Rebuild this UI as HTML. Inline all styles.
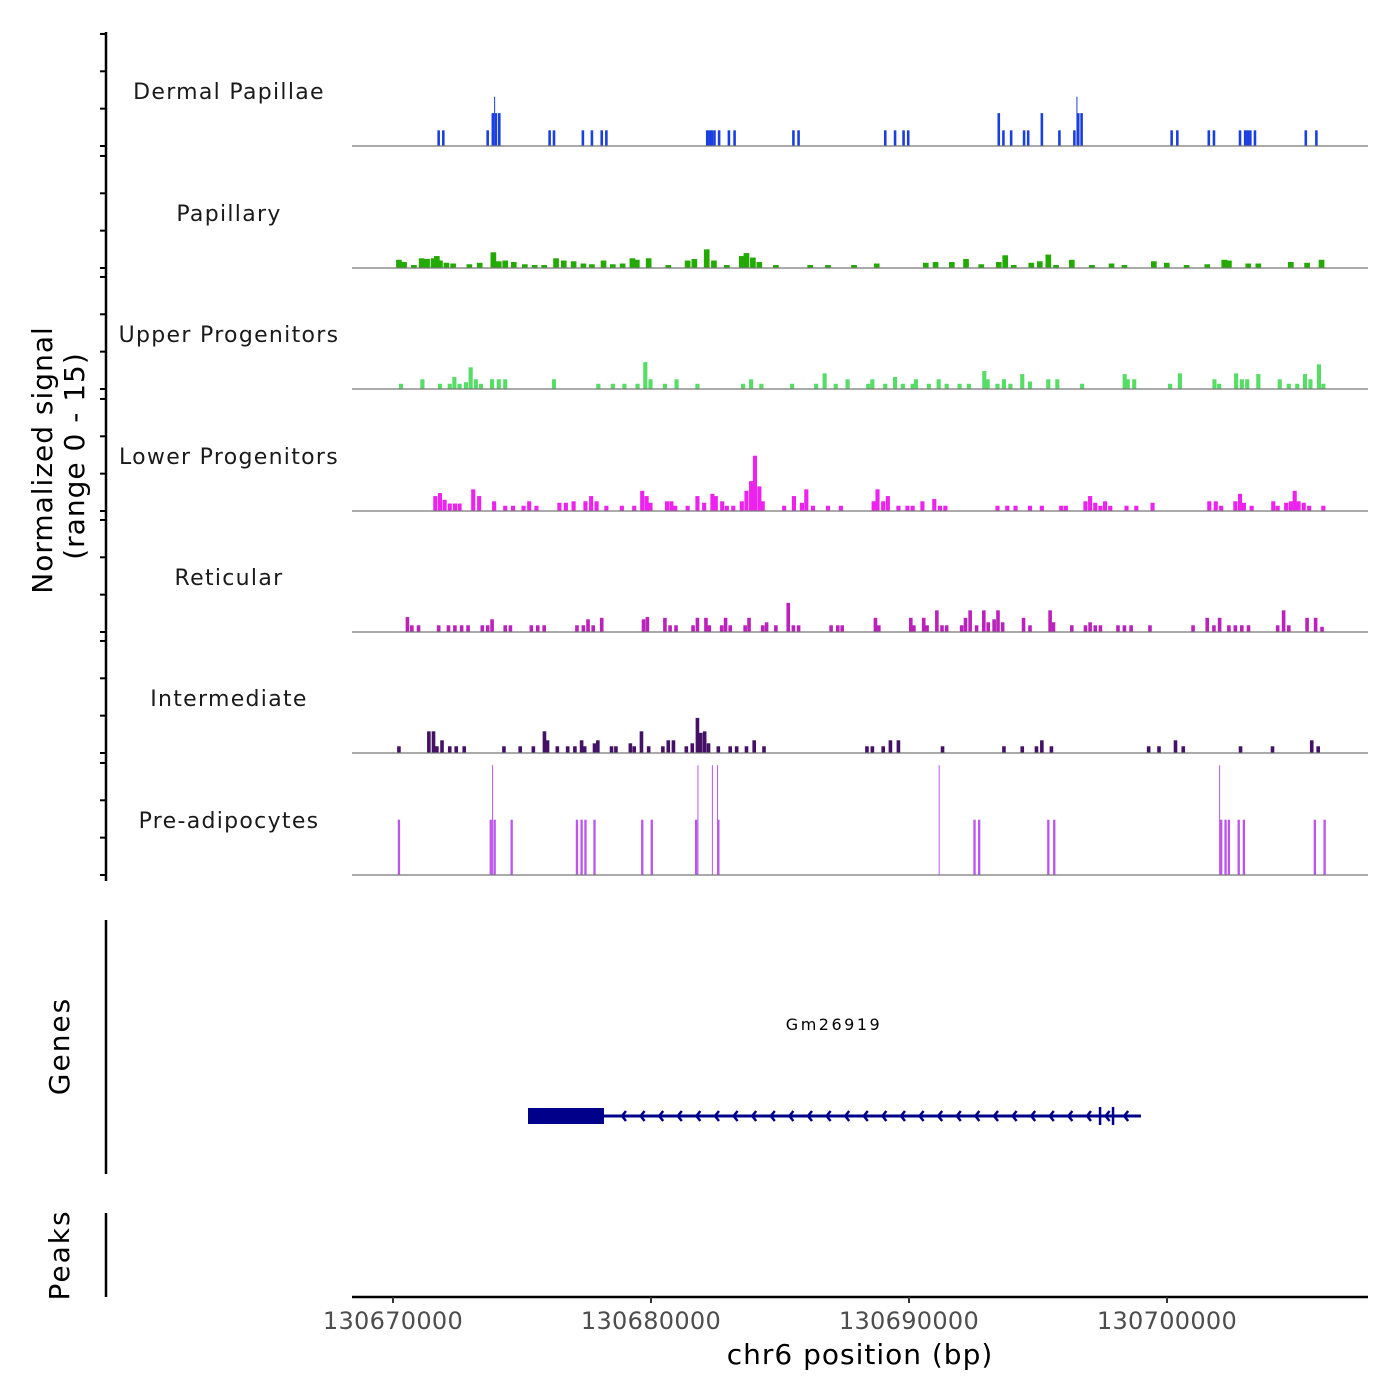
<!DOCTYPE html>
<html><head><meta charset="utf-8"><style>
body{margin:0;background:#fff}
svg{display:block;font-family:"DejaVu Sans","Liberation Sans",sans-serif}
</style></head><body>
<svg id="chart" width="1400" height="1400" viewBox="0 0 1400 1400" xmlns="http://www.w3.org/2000/svg">
<g id="axes"></g><g id="tracks"></g><g id="gene"></g>
<text transform="translate(52,460) rotate(-90)" text-anchor="middle" font-size="28" letter-spacing="1" fill="#000">Normalized signal</text>
<text transform="translate(84,456) rotate(-90)" text-anchor="middle" font-size="28" letter-spacing="1" fill="#000">(range 0 - 15)</text>
<text transform="translate(69,1046) rotate(-90)" text-anchor="middle" font-size="28" letter-spacing="2" fill="#000">Genes</text>
<text transform="translate(69,1255) rotate(-90)" text-anchor="middle" font-size="28" letter-spacing="2" fill="#000">Peaks</text>
<text x="860" y="1364" text-anchor="middle" font-size="28" letter-spacing="1" fill="#000">chr6 position (bp)</text>
</svg>
<script>
const tickValues=[130670000,130680000,130690000,130700000];
const trackNames=["Dermal Papillae","Papillary","Upper Progenitors","Lower Progenitors","Reticular","Intermediate","Pre-adipocytes"];
const trackColors=["#1a3fe0","#22aa00","#55dd66","#ee22ee","#bb22bb","#441166","#bb55ee"];
const binBp=[100,220,160,160,140,140,90];
const regionStartKb=130668;
const dermal=[[3.77,2.1],[3.95,2.1],[5.67,2.1],[5.87,4.4],[5.92,6.6],[5.99,4.4],[6.12,4.4],[8.07,2.1],[8.24,2.1],[9.36,2.1],[9.71,2.1],[10.09,2.1],[10.27,2.1],[14.18,2.1],[14.28,2.1],[14.36,2.1],[14.46,2.1],[14.64,2.1],[15.02,2.1],[15.24,2.1],[17.52,2.1],[17.72,2.1],[21.08,2.1],[21.46,2.1],[21.79,2.1],[21.97,2.1],[25.48,4.4],[25.66,2.1],[25.96,2.1],[26.46,2.1],[26.62,2.1],[27.15,4.4],[27.83,2.1],[28.41,2.1],[28.49,6.6],[28.56,4.4],[28.69,4.4],[32.18,2.1],[32.40,2.1],[33.62,2.1],[33.82,2.1],[34.83,2.1],[35.03,2.1],[35.13,2.1],[35.23,2.1],[35.41,2.1],[37.38,2.1],[37.79,2.1]];
const papillary=[[2.23,1.1],[2.43,0.8],[2.81,0.4],[3.11,1.3],[3.32,1.2],[3.57,1.3],[3.70,1.6],[3.82,1.0],[4.07,0.7],[4.33,0.6],[4.96,0.5],[5.36,0.7],[5.89,2.1],[6.10,0.9],[6.35,1.0],[6.68,0.8],[7.11,0.5],[7.49,0.4],[7.86,0.4],[8.32,1.3],[8.62,1.0],[9.00,0.9],[9.38,0.6],[9.71,0.5],[10.16,1.0],[10.52,0.5],[10.90,0.6],[11.28,1.3],[11.45,1.1],[11.91,1.3],[12.67,0.4],[13.42,1.0],[13.68,1.2],[14.16,2.5],[14.44,1.0],[14.94,0.4],[15.52,1.6],[15.70,2.0],[15.95,1.4],[16.20,0.8],[16.84,0.4],[18.17,0.4],[18.86,0.4],[19.87,0.4],[20.75,0.6],[22.65,0.7],[23.03,0.8],[23.66,0.8],[24.21,1.2],[24.80,0.5],[25.48,0.8],[25.73,1.7],[26.06,0.4],[26.74,0.7],[27.07,0.9],[27.40,1.8],[27.70,0.4],[28.31,1.1],[29.09,0.4],[29.85,0.6],[30.35,0.4],[31.49,0.9],[31.99,0.7],[32.76,0.4],[33.56,0.5],[34.22,1.1],[34.40,1.0],[35.15,0.6],[35.54,0.6],[36.80,0.8],[37.43,0.7],[37.99,1.1]];
const upper=[[2.31,0.7],[3.14,1.3],[3.82,0.7],[4.20,0.7],[4.38,1.6],[4.58,0.7],[4.83,0.9],[5.01,2.9],[5.21,1.3],[5.41,0.7],[5.84,1.3],[6.10,1.3],[6.35,1.3],[8.24,1.3],[9.96,0.7],[10.52,0.7],[10.97,0.7],[11.48,0.7],[11.78,3.6],[11.98,1.3],[12.54,0.7],[12.99,1.3],[13.80,0.7],[15.57,0.7],[15.88,1.3],[16.28,0.7],[17.47,0.7],[18.40,0.7],[18.73,2.1],[19.16,0.7],[19.62,1.3],[20.42,0.7],[20.58,1.3],[21.08,0.7],[21.46,1.6],[21.76,0.7],[22.14,0.7],[22.27,1.3],[22.77,0.7],[23.15,1.3],[23.46,0.7],[23.96,0.7],[24.32,0.7],[24.92,2.4],[25.05,1.3],[25.43,0.7],[25.68,1.3],[25.93,0.7],[26.39,2.0],[26.69,1.0],[27.40,1.3],[27.75,1.3],[28.71,0.7],[30.36,2.0],[30.48,1.3],[30.73,1.3],[32.12,0.7],[32.50,2.1],[33.84,1.3],[34.02,0.7],[34.68,2.1],[34.90,1.3],[35.11,1.3],[35.54,2.0],[36.37,1.3],[36.72,0.7],[37.05,0.7],[37.35,2.0],[37.56,1.3],[37.89,3.3],[38.06,0.7]];
const lower=[[3.64,2.0],[3.82,2.4],[4.00,1.5],[4.20,1.0],[4.40,1.0],[4.58,1.0],[5.11,2.9],[5.34,2.0],[5.92,1.3],[6.35,0.7],[6.65,0.7],[7.06,0.7],[7.28,1.3],[7.56,0.7],[8.45,1.1],[8.70,1.1],[9.00,1.3],[9.46,1.3],[9.68,2.0],[9.89,1.3],[10.27,0.7],[10.87,0.7],[11.35,0.7],[11.66,2.7],[11.83,2.0],[11.98,1.1],[12.62,1.3],[12.79,1.3],[12.94,0.7],[13.42,0.7],[13.80,2.0],[14.06,1.1],[14.38,2.3],[14.51,2.0],[14.76,1.3],[14.94,0.7],[15.19,0.7],[15.52,1.3],[15.70,2.7],[15.88,4.0],[16.03,7.4],[16.20,3.3],[16.33,1.3],[17.16,0.7],[17.54,2.0],[17.85,1.1],[18.02,2.9],[18.28,0.7],[18.86,0.7],[19.36,0.7],[20.63,1.3],[20.78,2.9],[21.00,1.3],[21.18,2.0],[21.59,0.7],[21.94,0.7],[22.14,0.7],[22.52,1.3],[22.98,1.6],[23.20,0.7],[23.41,0.7],[25.43,0.7],[25.81,0.7],[26.13,0.7],[26.69,0.7],[27.15,0.7],[27.90,0.7],[28.08,0.7],[28.84,1.3],[29.02,2.0],[29.22,1.1],[29.42,0.7],[29.60,1.3],[29.80,0.7],[30.43,0.7],[30.81,0.7],[31.44,1.1],[33.64,1.3],[33.89,1.3],[34.10,0.7],[34.65,1.3],[34.83,2.3],[34.98,1.1],[35.28,0.7],[36.12,1.3],[36.29,0.7],[36.62,1.1],[36.80,1.3],[36.95,2.7],[37.10,1.3],[37.30,1.1],[37.51,0.7],[38.06,0.7]];
const reticular=[[2.56,2.0],[2.73,0.9],[2.99,0.9],[3.77,0.9],[4.15,0.9],[4.40,0.9],[4.66,0.9],[4.91,0.9],[5.46,0.9],[5.67,0.9],[5.84,1.7],[6.35,0.9],[6.55,0.9],[7.36,0.9],[7.61,0.9],[7.86,0.9],[9.13,0.9],[9.38,0.9],[9.56,1.7],[9.76,0.9],[10.09,1.9],[11.71,1.7],[11.86,2.0],[12.54,1.9],[12.74,0.9],[12.97,0.9],[13.63,0.9],[13.80,1.9],[14.13,1.9],[14.26,0.9],[14.74,0.9],[14.89,1.9],[15.07,0.9],[15.65,0.9],[15.80,1.9],[16.33,0.9],[16.48,1.3],[16.84,0.9],[17.32,3.9],[17.52,0.9],[17.72,0.9],[18.98,0.9],[19.24,0.9],[19.41,0.9],[20.70,1.9],[20.83,0.9],[22.07,1.9],[22.19,0.9],[22.57,1.9],[22.70,0.9],[23.08,2.9],[23.28,0.9],[23.46,0.9],[24.04,0.9],[24.19,1.9],[24.37,2.9],[24.62,0.9],[24.90,2.9],[25.07,1.3],[25.30,1.7],[25.45,2.9],[25.63,1.3],[26.44,1.9],[26.69,0.9],[27.47,2.9],[27.60,1.3],[28.31,0.9],[28.84,0.9],[29.02,1.3],[29.22,0.9],[29.42,0.9],[30.10,0.9],[30.35,0.9],[30.61,0.9],[31.34,0.9],[33.01,0.9],[33.56,1.9],[33.82,0.9],[34.04,1.9],[34.40,0.9],[34.65,0.9],[34.90,0.9],[35.16,0.9],[36.29,0.9],[36.52,2.9],[36.72,0.9],[37.43,1.9],[37.76,1.9],[38.01,0.7]];
const intermediate=[[2.23,0.9],[3.39,2.9],[3.57,2.9],[3.70,0.9],[3.90,1.7],[4.20,0.9],[4.45,0.9],[4.76,0.9],[6.30,0.9],[6.93,0.9],[7.44,0.9],[7.87,2.9],[7.99,1.7],[8.37,0.9],[8.77,0.9],[9.05,0.9],[9.31,1.7],[9.43,0.9],[9.81,1.3],[9.94,1.7],[10.47,0.9],[10.64,0.9],[11.20,1.3],[11.35,0.9],[11.63,2.9],[11.91,0.9],[12.46,0.9],[12.67,1.7],[12.87,1.7],[13.37,0.9],[13.60,1.3],[13.80,4.7],[13.93,2.7],[14.08,2.9],[14.23,1.3],[14.61,0.9],[15.07,0.9],[15.32,0.9],[15.70,0.9],[16.00,1.7],[16.38,0.9],[20.37,0.9],[20.58,0.9],[21.00,0.9],[21.28,1.7],[21.59,1.7],[23.30,0.9],[25.68,0.9],[26.39,0.9],[26.94,0.9],[27.15,1.7],[27.52,0.9],[31.29,0.9],[31.69,0.9],[32.33,1.7],[32.63,0.9],[34.85,0.9],[36.09,0.9],[37.61,1.7],[37.86,0.9]];
const preadipocytes=[[2.23,7.4],[5.79,7.4],[5.84,14.7],[5.94,7.4],[6.60,7.4],[9.13,7.4],[9.31,7.4],[9.46,7.4],[9.81,7.4],[11.66,7.4],[12.03,7.4],[13.75,7.4],[13.80,14.7],[14.36,14.7],[14.56,14.7],[14.61,7.4],[23.15,14.7],[24.54,7.4],[24.72,7.4],[27.40,7.4],[27.63,7.4],[34.02,14.7],[34.10,7.4],[34.27,7.4],[34.40,7.4],[34.78,7.4],[34.98,7.4],[37.73,7.4],[38.11,7.4]];
const trackData=[dermal,papillary,upper,lower,reticular,intermediate,preadipocytes];
const geneStart=130675233, geneCdsEnd=130678178, geneEnd=130698992;
const geneExons=[130697403,130697907];

const NS="http://www.w3.org/2000/svg";
function mk(tag,attrs,parent){const e=document.createElementNS(NS,tag);for(const k in attrs)e.setAttribute(k,attrs[k]);parent.appendChild(e);return e;}
const X0=352,X1=1368;
function xScale(bp){return 393+(bp-130670000)/38.76;}
const baselines=[146,268,389,511,632,753,875];
const pxPerUnit=7.47;
function yScale(v,i){return baselines[i]-v*pxPerUnit;}

const axes=document.getElementById('axes');
let l=mk('line',{x1:106,y1:32,x2:106,y2:881,stroke:'#000','stroke-width':2.5},axes);


for(let i=0;i<7;i++){for(const v of [0,5,10,15]){const t=mk('line',{x1:100,x2:106,y1:yScale(v,i),y2:yScale(v,i),stroke:'#000','stroke-width':2},axes);

}}
l=mk('line',{x1:106,y1:920,x2:106,y2:1174,stroke:'#000','stroke-width':2.5},axes);


l=mk('line',{x1:106,y1:1213,x2:106,y2:1297,stroke:'#000','stroke-width':2.5},axes);


l=mk('line',{x1:X0,y1:1297,x2:X1,y2:1297,stroke:'#000','stroke-width':2.5},axes);


for(const tv of tickValues){const x=xScale(tv);
const t=mk('line',{x1:x,x2:x,y1:1297,y2:1303,stroke:'#333','stroke-width':2},axes);


const tx=mk('text',{x:x,y:1329,'text-anchor':'middle','font-size':24,'letter-spacing':0.3,fill:'#4d4d4d'},axes);tx.textContent=tv;

}

const tracks=document.getElementById('tracks');
trackData.forEach((arr,i)=>{
 const g=mk('g',{},tracks);
 
 
 const lab=mk('text',{x:229,y:baselines[i]-47,'text-anchor':'middle','font-size':22,'letter-spacing':1.3,fill:'#1a1a1a'},g);lab.textContent=trackNames[i];
 
 
 const w=binBp[i]/38.76;
 arr.forEach(([off,v])=>{const bp=(regionStartKb+off)*1000;const x=xScale(bp);const y=yScale(v,i);
  const thin=(i===0||i===6)&&v>=(i===0?6:14);
  const r=mk('rect',{x:thin?x:x-w/2,y:y,width:thin?1:w,height:baselines[i]-y,fill:trackColors[i]},g);
  
  });
 const b=mk('line',{x1:X0,x2:X1,y1:baselines[i],y2:baselines[i],stroke:'#777','stroke-width':1.2},g);
 
 
});

const gg=document.getElementById('gene');
const gx0=xScale(geneStart),gx1=xScale(geneCdsEnd),gx2=xScale(geneEnd);
let e=mk('line',{x1:gx1,x2:gx2,y1:1116,y2:1116,stroke:'#00008b','stroke-width':3},gg);


e=mk('rect',{x:gx0,y:1108,width:gx1-gx0,height:16,fill:'#00008b'},gg);


for(let x=gx1+18;x<gx2-6;x+=18.6){const a=mk('path',{d:`M${x+4},${1111} L${x},${1116} L${x+4},${1121}`,stroke:'#00008b','stroke-width':2.5,fill:'none'},gg);

}
geneExons.forEach(bp=>{const x=xScale(bp);const r=mk('rect',{x:x-1.2,y:1107,width:2.5,height:18,fill:'#00008b'},gg);

});
e=mk('text',{x:834,y:1030,'text-anchor':'middle','font-size':16,'letter-spacing':2.5,fill:'#000'},gg);e.textContent='Gm26919';


</script>
</body></html>
